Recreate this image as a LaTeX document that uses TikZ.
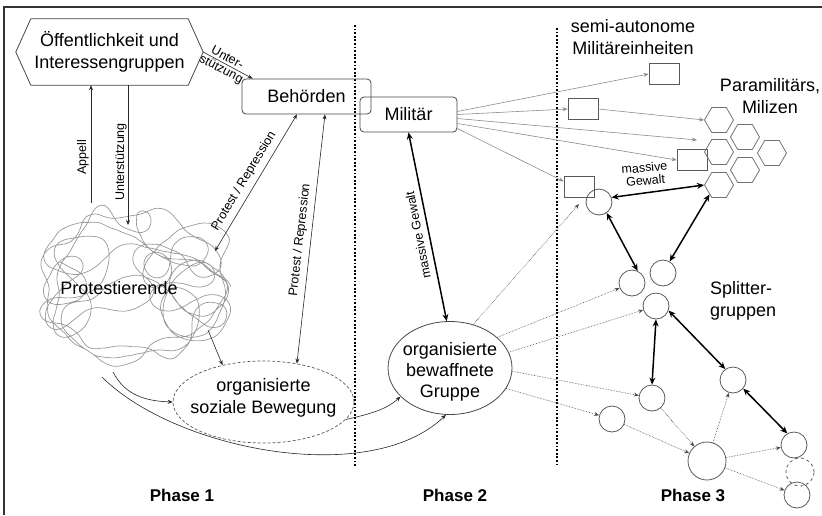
\documentclass[tikz,border=0pt]{standalone}
\usepackage{fontspec}
\setmainfont{Liberation Sans}
\usetikzlibrary{arrows.meta,shapes.geometric,calc}
\begin{document}
\begin{tikzpicture}[x=1pt,y=-1pt,
  every node/.style={inner sep=0pt, font=\fontsize{18}{22}\selectfont},
  lbl/.style={font=\fontsize{12.5}{13}\selectfont},
  phase/.style={font=\bfseries\fontsize{17}{20}\selectfont},
  shp/.style={draw=black!72, line width=0.8pt},
  rbox/.style={shp, rounded corners=4pt},
  sq/.style={draw=black!65, line width=0.8pt, minimum width=30pt, minimum height=21pt},
  hexa/.style={draw=black!55, line width=0.8pt, regular polygon, regular polygon sides=6, minimum size=29pt},
  circ/.style={draw=black!65, line width=0.8pt, circle, minimum size=26pt},
  conn/.style={draw=black!85, line width=0.6pt, -{Stealth[length=5pt,width=4pt]}},
  conn2/.style={draw=black!85, line width=0.6pt, {Stealth[length=5pt,width=4pt]}-{Stealth[length=5pt,width=4pt]}},
  mline/.style={draw=black!45, line width=0.6pt, -{Stealth[length=5pt,width=4pt]}},
  dline/.style={draw=black!70, line width=0.6pt, densely dotted, -{Stealth[length=5pt,width=4pt]}},
  heavy/.style={draw=black, line width=1.5pt, {Stealth[length=7pt,width=6pt]}-{Stealth[length=7pt,width=6pt]}},
  phasesep/.style={line width=1.8pt, dash pattern=on 1.8pt off 1.8pt},
  scrib/.style={draw=black!40, line width=0.7pt},
]
\useasboundingbox (0,0) rectangle (822,515);
\draw[line width=1.5pt, black!80] (4,515) -- (4,7) -- (822,7);

% ---------- scribble cloud of protesters (soft-steered random walk) ----------
\pgfmathsetseed{97}
\xdef\sx{60}\xdef\sy{262}\xdef\sa{20}\xdef\sw{0}\xdef\spts{(60,262)}
\foreach \i in {1,...,640}{%
  \pgfmathsetmacro\rr{((\sx-134)/114)*((\sx-134)/114)+((\sy-286)/86)*((\sy-286)/86)}%
  \pgfmathsetmacro\tg{atan2(286-\sy,134-\sx)}%
  \pgfmathsetmacro\dd{mod(\tg-\sa+900,360)-180}%
  \pgfmathsetmacro\gg{\rr>0.55 ? min(0.45,(\rr-0.55)*1.0) : 0}%
  \pgfmathsetmacro\nw{0.8*\sw+14*rand}%
  \pgfmathsetmacro\na{mod(\sa+\nw+\gg*\dd+360,360)}%
  \pgfmathsetmacro\nx{\sx+6*cos(\na)}%
  \pgfmathsetmacro\ny{\sy+6*sin(\na)}%
  \xdef\sx{\nx}\xdef\sy{\ny}\xdef\sa{\na}\xdef\sw{\nw}%
  \xdef\spts{\spts (\nx,\ny)}%
}
\edef\drawscrib{\noexpand\draw[scrib] plot[smooth, tension=0.6] coordinates {\spts};}
\drawscrib

% ---------- phase separators ----------
\coordinate (s1t) at (355,25); \coordinate (s1b) at (355,466);
\coordinate (s2t) at (557,28); \coordinate (s2b) at (557,466);
\draw[phasesep] (s1t) -- (s1b);
\draw[phasesep] (s2t) -- (s2b);

% ---------- main nodes ----------
\node[minimum width=187pt, minimum height=66pt, align=center] (pub) at (109.5,52) {Öffentlichkeit und\\Interessengruppen};
\draw[shp] (pub.west) -- ([xshift=15pt]pub.north west) -- ([xshift=-15pt]pub.north east) -- (pub.east) -- ([xshift=-15pt]pub.south east) -- ([xshift=15pt]pub.south west) -- cycle;

\node[rbox, minimum width=129pt, minimum height=35pt] (beh) at (306.5,96.5) {Behörden};
\node[rbox, minimum width=97pt, minimum height=35pt] (mil) at (408.5,114.5) {Militär};

\node (prot) at (119,288) {Protestierende};

\node[ellipse, draw=black!65, line width=0.7pt, dash pattern=on 3pt off 2pt, minimum width=181pt, minimum height=82pt] (osb) at (263.5,402) {};
\node[align=center] (osbT) at (263.5,397.5) {organisierte\\soziale Bewegung};

\node[ellipse, shp, minimum width=124pt, minimum height=93pt] (grp) at (450,368) {};
\node[align=center, font=\fontsize{18}{21}\selectfont] (grpT) at (450,372) {organisierte\\bewaffnete\\Gruppe};

% ---------- phase 3 ----------
\node[sq] (R1) at (664,74) {};
\node[sq] (R2) at (583,109) {};
\node[sq] (R3) at (692,160) {};
\node[sq] (R4) at (579,187) {};

\node[hexa] (H1) at (719,120) {};
\node[hexa] (H2) at (745,137) {};
\node[hexa] (H3) at (719,152) {};
\node[hexa] (H4) at (772,153) {};
\node[hexa] (H5) at (745,170) {};
\node[hexa] (H6) at (719,185) {};

\node[circ] (C1) at (599,202) {};
\node[circ] (C2) at (632,283) {};
\node[circ] (C3) at (663,273) {};
\node[circ] (C4) at (656,306) {};
\node[circ] (C5) at (733,380) {};
\node[circ] (C6) at (652,398) {};
\node[circ] (C7) at (612,419) {};
\node[circ, minimum size=38pt] (C8) at (707,461) {};
\node[circ] (C9) at (794,445) {};
\node[circ, dashed, minimum size=28pt] (C10) at (800,472) {};
\node[circ] (C11) at (797,495) {};

\node[align=center] (semi) at (633,37) {semi-autonome\\Militäreinheiten};
\node[align=center] (para) at (770,96) {Paramilitärs,\\Milizen};
\node[align=left, anchor=west] (split) at (710,301) {Splitter-\\gruppen};
\node[lbl, align=center, rotate=5] (mg2) at (645,174) {massive\\Gewalt};

\node[phase] (ph1) at (182,495) {Phase 1};
\node[phase] (ph2) at (455,495) {Phase 2};
\node[phase] (ph3) at (693,495) {Phase 3};

% ---------- phase 1 connectors ----------
\coordinate (appS) at (91,203);
\coordinate (untE) at (128,225);
\coordinate (cl1) at (215,251);
\coordinate (cl2) at (208,330);
\coordinate (cl3) at (113,372);
\coordinate (cl4) at (102,377);

\draw[conn] (appS) -- ([xshift=-18.5pt]pub.south);
\draw[conn] ([xshift=18.5pt]pub.south) -- (untE);
\draw[conn] (pub.east) -- ([xshift=11pt]beh.north west);
\draw[conn2] ([xshift=-9.5pt]beh.south) -- (cl1);
\draw[conn2] ([xshift=18.5pt]beh.south) -- (osb.49);
\draw[conn] (cl2) -- (osb.138);
\draw[conn] (cl3) .. controls (125,395) and (145,401) .. (osb.west);
\draw[conn] (cl4) .. controls (175,450) and (370,488) .. (grp.-95);
\draw[conn] (osb.-12) .. controls (375,413) and (388,408) .. (grp.210);

\node[lbl, rotate=90] (lApp) at (83,157) {Appell};
\node[lbl, rotate=90] (lUnt) at (121,162) {Unterstützung};
\node[lbl, rotate=-28, align=center] (lUnt2) at (224,64) {Unter-\\stützung};
\node[lbl, rotate=59] (lPR1) at (244,181) {Protest / Repression};
\node[lbl, rotate=83.5] (lPR2) at (300,240) {Protest / Repression};
\node[lbl, rotate=101] (lMG) at (418,235) {massive Gewalt};

% ---------- phase 2/3 connectors ----------
\draw[heavy] (mil.south) -- (grp.94);

\coordinate (hgap) at (697,140);
\draw[mline] ([yshift=3pt]mil.east) -- (R1.west);
\draw[mline] (mil.east) -- (R2.west);
\draw[mline] ([yshift=-4pt]mil.east) -- (hgap);
\draw[mline] ([yshift=-9pt]mil.east) -- (R3.west);
\draw[mline] ([yshift=-14pt]mil.east) -- (R4.160);
\draw[mline] (R2.east) -- (H1.west);

\coordinate (t1) at (579,204);
\draw[dline] (grp.62) -- (t1);
\draw[dline] (grp.33) -- (C2);
\draw[dline] (grp.15) -- (C4);
\draw[dline] (grp.-3) -- (C6);
\draw[dline] (grp.-20) -- (C7);

\draw[dline] (C7) -- (C8);
\draw[dline] (C6) -- (C8);
\draw[dline] (C8) -- (C5);
\draw[dline] (C8) -- (C9);
\draw[dline] (C8) -- (C11);

\draw[heavy] (C1.20) -- (H6.west);
\draw[heavy] (C1.-55) -- (C2.65);
\draw[heavy] (H6.south west) -- (C3.60);
\draw[heavy] (C4.south) -- (C6.north);
\draw[heavy] (C4.-20) -- (C5.125);
\draw[heavy] (C5.-40) -- (C9.120);
\end{tikzpicture}
\end{document}
